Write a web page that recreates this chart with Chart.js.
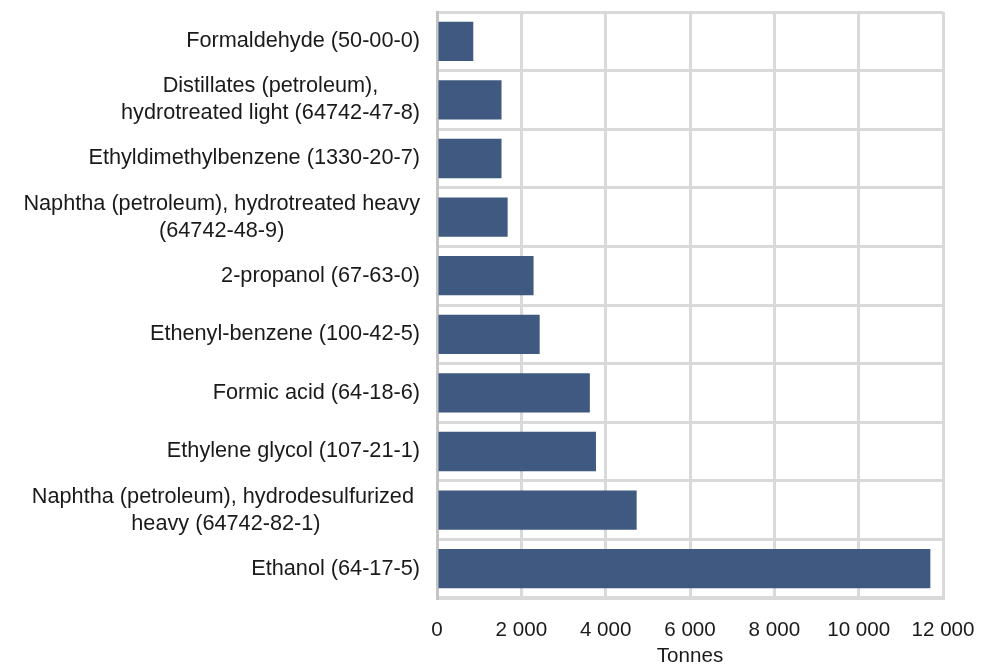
<!DOCTYPE html>
<html>
<head>
<meta charset="utf-8">
<script src="https://cdn.jsdelivr.net/npm/chart.js@4/dist/chart.umd.min.js"></script>
<style>
  html, body { margin: 0; padding: 0; background: #fff; }
  #wrap { width: 982px; height: 667px; }
</style>
</head>
<body>
<div id="wrap"><canvas id="chemCanvas" width="982" height="667"></canvas></div>
<script>
// substances, top to bottom (each entry = label lines)
const substances = [
  ['Formaldehyde (50-00-0)'],
  ['Distillates (petroleum),', 'hydrotreated light (64742-47-8)'],
  ['Ethyldimethylbenzene (1330-20-7)'],
  ['Naphtha (petroleum), hydrotreated heavy', '(64742-48-9)'],
  ['2-propanol (67-63-0)'],
  ['Ethenyl-benzene (100-42-5)'],
  ['Formic acid (64-18-6)'],
  ['Ethylene glycol (107-21-1)'],
  ['Naphtha (petroleum), hydrodesulfurized ', 'heavy (64742-82-1)'],
  ['Ethanol (64-17-5)']
];
// tonnes
const tonnes = [860, 1530, 1530, 1675, 2290, 2435, 3625, 3770, 4735, 11700];
const xTicks = [0, 2000, 4000, 6000, 8000, 10000, 12000];

const font = 'Liberation Sans, Arial, sans-serif';

function spaced(v) {
    return String(v).replace(/\B(?=(\d{3})+(?!\d))/g, ' ');
}

// draws the category labels, lines centred on each other, block right-aligned
const catLabels = {
    id: 'catLabels',
    afterDraw(chart) {
        const ctx = chart.ctx;
        const yScale = chart.scales.y;
        const right = chart.chartArea.left - 17;
        const lineH = 27;
        ctx.save();
        ctx.font = '21.7px ' + font;
        ctx.fillStyle = '#1a1a1a';
        ctx.textAlign = 'center';
        ctx.textBaseline = 'middle';
        substances.forEach((lines, i) => {
            const w = Math.max(...lines.map(l => ctx.measureText(l).width));
            const cx = right - w / 2;
            const cy = yScale.getPixelForValue(i);
            lines.forEach((l, j) => {
                ctx.fillText(l, cx, cy + (j - (lines.length - 1) / 2) * lineH);
            });
        });
        ctx.restore();
    }
};

const ctx = document.getElementById('chemCanvas').getContext('2d');
const chemChart = new Chart(ctx, {
    type: 'bar',
    data: {
        labels: substances.map(s => s.join(' ')),
        datasets: [{
            data: tonnes,
            backgroundColor: '#3f5980',
            borderWidth: 0,
            barPercentage: 0.67,
            categoryPercentage: 1
        }]
    },
    options: {
        indexAxis: 'y',
        responsive: false,
        animation: false,
        layout: { padding: { top: 12, right: 0, left: 0, bottom: 0 } },
        plugins: {
            legend: { display: false },
            tooltip: { enabled: false }
        },
        scales: {
            x: {
                min: 0,
                max: 12000,
                afterBuildTicks: (scale) => { scale.ticks = xTicks.map(v => ({ value: v })); },
                afterFit: (scale) => { scale.paddingRight = 39; scale.height = 69; },
                grid: { color: '#d9d9d9', lineWidth: 3, drawTicks: false },
                border: { color: '#d9d9d9', width: 3 },
                ticks: {
                    color: '#1a1a1a',
                    padding: 22,
                    maxRotation: 0,
                    minRotation: 0,
                    font: { family: font, size: 20.6, lineHeight: 1 },
                    callback: (v) => spaced(v)
                },
                title: {
                    display: true,
                    text: 'Tonnes',
                    color: '#1a1a1a',
                    font: { family: font, size: 20.6, lineHeight: 1 },
                    padding: { top: 6, bottom: 0 }
                }
            },
            y: {
                grid: { color: '#d9d9d9', lineWidth: 3, drawTicks: false },
                border: { color: '#c4c4c4', width: 3 },
                ticks: { display: false },
                afterFit: (scale) => { scale.width = 437; }
            }
        }
    },
    plugins: [catLabels]
});
</script>
</body>
</html>
